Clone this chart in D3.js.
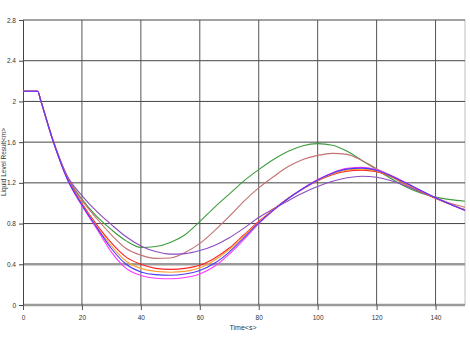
<!DOCTYPE html>
<html lang="en">
<head>
    <meta charset="UTF-8">
    <title>Liquid Level Result</title>
    <script src="https://d3js.org/d3.v7.min.js"></script>
    <style>
        body { margin: 0; background: #fff; font-family: "Liberation Sans", Arial, sans-serif; }
        text { font-size: 7px; fill: #333; }
    </style>
</head>
<body>
    <svg width="470" height="353"></svg>

    <script>
        // Thời gian (s)
        const times = [0, 5, 6, 10, 15, 20, 25, 30, 35, 40, 45, 50, 55, 60, 65, 70, 75, 80,
                       85, 90, 95, 100, 105, 110, 115, 120, 125, 130, 135, 140, 145, 150];

        const green   = [2.1, 2.1, 2.01, 1.63, 1.26, 1.04, 0.87, 0.74, 0.63, 0.565, 0.575, 0.615, 0.69, 0.82, 0.96, 1.09,
                         1.22, 1.33, 1.43, 1.51, 1.565, 1.585, 1.57, 1.51, 1.42, 1.33, 1.24, 1.16, 1.10, 1.06, 1.035, 1.02];
        const brown   = [2.1, 2.1, 2.01, 1.63, 1.255, 1.03, 0.85, 0.69, 0.555, 0.49, 0.458, 0.462, 0.515, 0.605, 0.73, 0.87,
                         1.02, 1.15, 1.26, 1.36, 1.43, 1.47, 1.49, 1.48, 1.42, 1.34, 1.26, 1.18, 1.11, 1.05, 1.0, 0.96];
        const purple  = [2.1, 2.1, 2.01, 1.64, 1.27, 1.075, 0.92, 0.79, 0.67, 0.58, 0.525, 0.50, 0.505, 0.535, 0.585, 0.66,
                         0.755, 0.86, 0.945, 1.025, 1.1, 1.165, 1.215, 1.25, 1.265, 1.255, 1.22, 1.17, 1.11, 1.05, 0.99, 0.935];
        const red     = [2.1, 2.1, 2.01, 1.63, 1.25, 1.0, 0.79, 0.61, 0.47, 0.40, 0.36, 0.35, 0.36, 0.39, 0.46, 0.56,
                         0.69, 0.82, 0.94, 1.05, 1.14, 1.22, 1.28, 1.315, 1.325, 1.31, 1.26, 1.19, 1.12, 1.05, 0.99, 0.935];
        const orange  = [2.1, 2.1, 2.01, 1.63, 1.245, 0.99, 0.775, 0.58, 0.43, 0.36, 0.33, 0.322, 0.33, 0.365, 0.44, 0.545,
                         0.68, 0.812, 0.936, 1.047, 1.142, 1.225, 1.29, 1.325, 1.335, 1.318, 1.265, 1.195, 1.122, 1.052, 0.99, 0.932];
        const magenta = [2.1, 2.1, 2.01, 1.63, 1.235, 0.975, 0.75, 0.52, 0.36, 0.29, 0.263, 0.258, 0.27, 0.305, 0.38, 0.50,
                         0.645, 0.80, 0.93, 1.045, 1.145, 1.232, 1.30, 1.342, 1.352, 1.328, 1.272, 1.2, 1.126, 1.055, 0.99, 0.928];
        const blue    = [2.1, 2.1, 2.01, 1.63, 1.24, 0.985, 0.765, 0.555, 0.40, 0.325, 0.298, 0.293, 0.305, 0.34, 0.41, 0.52,
                         0.662, 0.806, 0.932, 1.046, 1.144, 1.228, 1.295, 1.335, 1.345, 1.322, 1.268, 1.198, 1.124, 1.054, 0.99, 0.93];

        const xTicks = [0, 20, 40, 60, 80, 100, 120, 140];
        const yTicks = [0, 0.4, 0.8, 1.2, 1.6, 2, 2.4, 2.8];

        // Các đường, vẽ theo thứ tự (đường xanh cuối cùng nằm trên)
        const series = [
            { values: green,   color: "#3c9c3c" },
            { values: brown,   color: "#c27272" },
            { values: purple,  color: "#8c4cc0" },
            { values: red,     color: "#ff2424" },
            { values: orange,  color: "#ffa234" },
            { values: magenta, color: "#ff38ff" },
            { values: blue,    color: "#4a3cf6" }
        ];

        const svg = d3.select("svg");
        const mLeft = 23, mRight = 465, mTop = 20, mBottom = 305;

        const x = d3.scaleLinear().domain([0, 150]).range([mLeft, mRight]);
        const y = d3.scaleLinear().domain([0, 2.8]).range([mBottom, mTop]);

        // Viền phải
        svg.append("line")
            .attr("x1", mRight).attr("x2", mRight)
            .attr("y1", mTop).attr("y2", mBottom)
            .attr("stroke", "#d4d4d4").attr("stroke-width", 1.5);

        // Lưới ngang
        svg.append("g").selectAll("line")
            .data(yTicks)
            .enter().append("line")
            .attr("x1", mLeft).attr("x2", mRight)
            .attr("y1", d => y(d)).attr("y2", d => y(d))
            .attr("stroke", d => d < 0.6 ? "#9a9a9a" : "#444")
            .attr("stroke-width", d => d < 0.6 ? 2.5 : 1);

        // Lưới dọc
        svg.append("g").selectAll("line")
            .data(xTicks.slice(1))
            .enter().append("line")
            .attr("x1", d => x(d)).attr("x2", d => x(d))
            .attr("y1", mTop).attr("y2", mBottom)
            .attr("stroke", "#555").attr("stroke-width", 1);

        // Trục Y
        const yAxis = svg.append("g")
            .attr("transform", `translate(${mLeft},0)`)
            .call(d3.axisLeft(y).tickValues(yTicks).tickSize(4).tickPadding(3)
                .tickFormat(d => d3.format("~g")(d)));
        yAxis.select(".domain").attr("stroke", "#444");
        yAxis.selectAll(".tick line").attr("stroke", "#444");
        yAxis.selectAll("text").style("font-size", "6.5px").attr("fill", "#333");

        // Trục X
        const xAxis = svg.append("g")
            .attr("transform", `translate(0,${mBottom})`)
            .call(d3.axisBottom(x).tickValues(xTicks).tickSize(5).tickPadding(5));
        xAxis.select(".domain").remove();
        xAxis.selectAll(".tick line").attr("stroke", "#555");
        xAxis.selectAll("text").style("font-size", "6.5px").attr("fill", "#333");

        // Vẽ đường
        const line = d3.line()
            .x((d, i) => x(times[i]))
            .y(d => y(d))
            .curve(d3.curveMonotoneX);

        svg.append("g").selectAll("path")
            .data(series)
            .enter().append("path")
            .attr("d", d => line(d.values))
            .attr("fill", "none")
            .attr("stroke", d => d.color)
            .attr("stroke-width", 1.1);

        // Nhãn trục
        svg.append("text")
            .attr("x", 243).attr("y", 330)
            .attr("text-anchor", "middle")
            .text("Time<s>");

        svg.append("text")
            .attr("transform", `translate(6,162) rotate(-90)`)
            .attr("text-anchor", "middle")
            .style("font-size", "6.5px")
            .text("Liquid Level Result<m>");
    </script>
</body>
</html>
